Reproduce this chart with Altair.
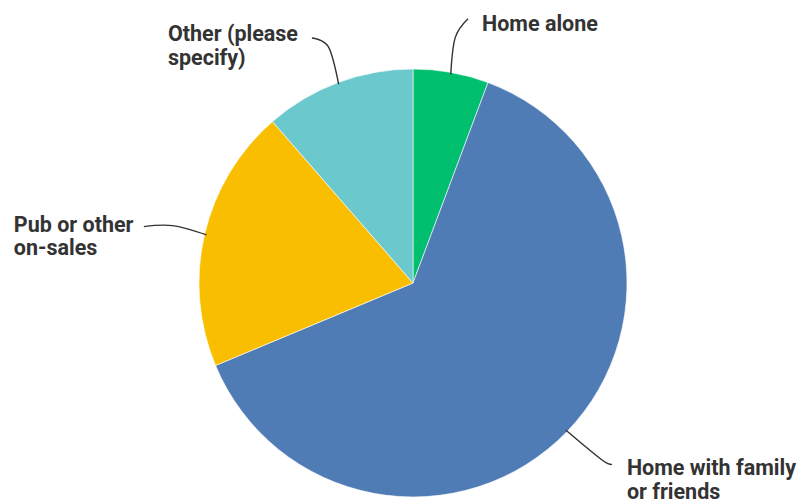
import altair as alt
import pandas as pd
import numpy as np

# ---- data ----
categories = ["Home alone", "Home with family or friends", "Pub or other on-sales", "Other (please specify)"]
values = [5.7, 63.0, 19.9, 11.4]
labels = ["Home alone", "Home with family\nor friends", "Pub or other\non-sales", "Other (please\nspecify)"]
colors = ["#00BF6F", "#507CB6", "#F9BE00", "#6BC8CD"]

# ---- layout (pixels / degrees) ----
W, H = 806, 504
CX, CY, R = 413, 283, 214
# leader points: (angle offset from slice middle in degrees, radius in px)
leader_layout = [
    [(0, 212), (-0.5, 249), (1.5, 270)],
    [(0, 212), (-0.8, 259), (-1.6, 269)],
    [(0, 212), (0.3, 247), (-1.3, 275)],
    [(0, 212), (0.8, 251), (-1.9, 265)],
]
# left edge / first baseline of each label relative to leader end: (dx, dy)
label_layout = [(14, 12), (15, 11), (-130, 5), (-144, 3)]
FONT = "Roboto"
FONT_SIZE = 21.5
LINE_H = 23.5
TEXT_COLOR = "#333333"

df = pd.DataFrame({"category": categories, "value": values, "label": labels,
                   "order": list(range(len(categories)))})

total = float(np.sum(values))
cum = np.cumsum(values)
mids = (cum - np.array(values) / 2) / total * 360.0

rows = []
text_rows = []
for i, cat in enumerate(categories):
    pts = []
    for j, (da, r) in enumerate(leader_layout[i]):
        a = np.radians(mids[i] + da)
        px = CX + r * np.sin(a)
        py = CY - r * np.cos(a)
        pts.append((px, py))
        rows.append({"category": cat, "seq": j, "px": px, "py": py})
    dx, dy = label_layout[i]
    text_rows.append({"category": cat, "label": labels[i],
                      "tx": pts[-1][0] + dx, "ty": pts[-1][1] + dy})
leaders = pd.DataFrame(rows)
texts = pd.DataFrame(text_rows)

color_scale = alt.Scale(domain=categories, range=colors)

pie = alt.Chart(df).mark_arc(outerRadius=R, stroke="white", strokeWidth=0.6).encode(
    theta=alt.Theta("value:Q", stack=True),
    order=alt.Order("order:Q"),
    color=alt.Color("category:N", scale=color_scale, legend=None),
    x=alt.value(CX),
    y=alt.value(CY),
)

lines = alt.Chart(leaders).mark_line(color="#333333", strokeWidth=1.4, interpolate="cardinal").encode(
    x=alt.X("px:Q", scale=None),
    y=alt.Y("py:Q", scale=None),
    detail="category:N",
    order="seq:Q",
)

text = alt.Chart(texts).mark_text(
    align="left", baseline="alphabetic", font=FONT, fontSize=FONT_SIZE, fontWeight="bold",
    color=TEXT_COLOR, lineBreak="\n", lineHeight=LINE_H,
).encode(
    x=alt.X("tx:Q", scale=None),
    y=alt.Y("ty:Q", scale=None),
    text="label:N",
)

chart = alt.layer(pie, lines, text).properties(
    width=W, height=H, padding=0, autosize="none", background="white"
).configure_view(stroke=None)

chart.save("out.html", embed_options={"renderer": "svg", "actions": False})
